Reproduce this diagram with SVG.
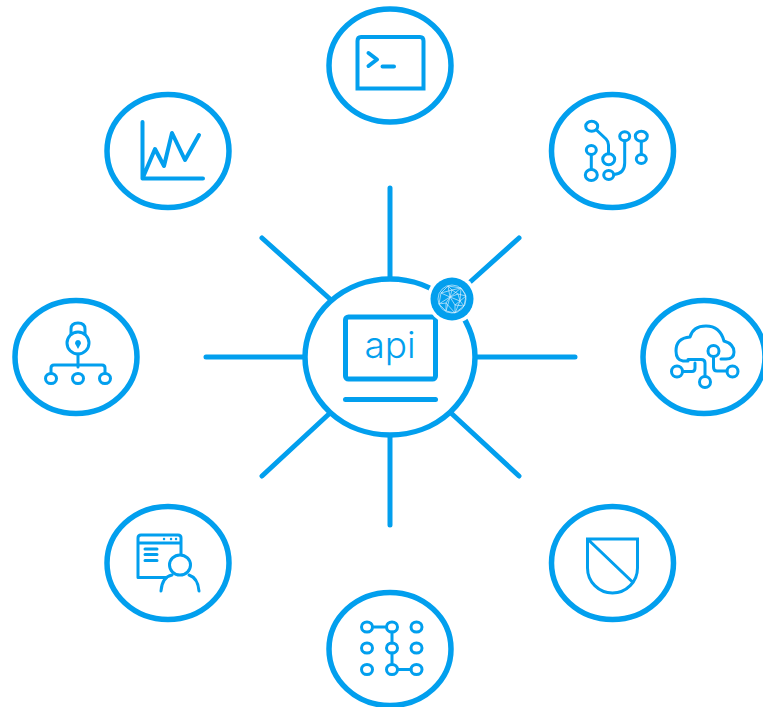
<svg xmlns="http://www.w3.org/2000/svg" width="763" height="707" viewBox="0 0 763 707">
<style>
.ring{fill:#fff;stroke:#029fee;stroke-width:5.500}
.sp{fill:none;stroke:#029fee;stroke-width:5;stroke-linecap:round}
.ic{fill:none;stroke:#029fee;stroke-width:3;stroke-linecap:round;stroke-linejoin:round}
.net{fill:none;stroke:#d5eefc;stroke-width:.7}
</style>
<rect width="763" height="707" fill="#fff"/>
<g id="connectors" class="sp">
<path d="M390 188V277M390 437V525M206 357H303M477 357H575M262 238L330 299M519 238L469 283M262 476L330 413M519 476L451 413"/>
</g>
<g id="node-api">
<ellipse class="ring" cx="390" cy="357" rx="85" ry="78"/>
<rect x="345.500" y="317" width="90" height="62" rx="3" fill="none" stroke="#029fee" stroke-width="5"/>
<path d="M345.500 399.500H435.500" class="sp"/>
<text x="390" y="358" font-family="Inter, 'Noto Sans', sans-serif" font-size="37" font-weight="300" fill="#029fee" text-anchor="middle">api</text>
</g>
<g id="node-globe">
<circle cx="452" cy="299" r="25" fill="#fff"/>
<circle cx="452" cy="299" r="21.500" fill="#029fee"/>
<g class="net">
<circle cx="452" cy="299" r="14"/>
<path d="M448 286L441 293L439 304L446 311L455 313L464 306L466 296L461 288L448 286M448 286L450 297L441 293M450 297L446 311M450 297L460 301L455 313M460 301L466 296M450 297L461 288M460 301L461 288M439 304L450 297M460 301L464 306M441 293L452 290L461 288M452 290L450 297M452 290L448 286M439 304L446 303L450 297M446 303L446 311M446 303L455 313M455 305L460 301M455 305L450 297M455 305L464 306M455 305L455 313M458 294L452 290M458 294L466 296M458 294L460 301M458 294L450 297"/>
</g>
</g>
<g id="node-terminal">
<ellipse class="ring" cx="390" cy="65.500" rx="61" ry="56.500"/>
<path d="M357.500 88.500V41Q357.500 37 361 37H420Q423.500 37 423.500 41V88.500Z" fill="none" stroke="#029fee" stroke-width="4"/>
<path d="M368.500 53L377 59.500L368.500 66M382.500 66.500H394" fill="none" stroke="#029fee" stroke-width="4" stroke-linecap="round" stroke-linejoin="round"/>
</g>
<g id="node-circuit">
<ellipse class="ring" cx="612.500" cy="151" rx="61" ry="56.500"/>
<g class="ic">
<ellipse cx="591.700" cy="126.300" rx="6" ry="5"/>
<ellipse cx="624.700" cy="136.300" rx="5" ry="4.500"/>
<ellipse cx="641.300" cy="136.300" rx="6" ry="5"/>
<ellipse cx="591.300" cy="150" rx="5" ry="4.500"/>
<ellipse cx="641.300" cy="159" rx="5" ry="4.500"/>
<ellipse cx="608.700" cy="159.300" rx="6" ry="5.500"/>
<ellipse cx="591.300" cy="175" rx="6" ry="5.500"/>
<ellipse cx="608.700" cy="175" rx="5" ry="4.500"/>
<path d="M597 130.500L606 139Q608.500 141.500 608.500 145V153.800M591.300 154.500V169.500M641.300 141.300V154.500M624.700 140.800V163Q624.700 173.500 614 174.500"/>
</g>
</g>
<g id="node-cloud">
<ellipse class="ring" cx="704" cy="357" rx="61" ry="56.500"/>
<g class="ic">
<path d="M688 361H683Q676 360 676 351Q676 338 690 337Q693 326 706 326Q720 326 724 341Q734 344 734 352Q734 359 726 359H721"/>
<circle cx="713.500" cy="351" r="5.500"/>
<path d="M713.500 356.500V367Q713.500 371 717 371H727"/>
<circle cx="732.500" cy="371.500" r="5.500"/>
<circle cx="677" cy="371.500" r="5.500"/>
<path d="M682.500 371.500H692Q695 371.500 695 368V363"/>
<circle cx="705" cy="382" r="5.500"/>
<path d="M688 359.500H701Q705 359.500 705 363V376.500"/>
</g>
</g>
<g id="node-shield">
<ellipse class="ring" cx="612.500" cy="563" rx="61" ry="56.500"/>
<path d="M587.500 539H637.500V568A25 25 0 0 1 587.500 568ZM587.500 539L632.500 582" fill="none" stroke="#029fee" stroke-width="3" stroke-linejoin="miter"/>
</g>
<g id="node-grid">
<ellipse class="ring" cx="390" cy="649" rx="61" ry="56.500"/>
<g class="ic">
<ellipse cx="367" cy="627" rx="5.500" ry="5"/>
<ellipse cx="392" cy="627" rx="5.500" ry="5"/>
<ellipse cx="416.500" cy="627" rx="5.500" ry="5"/>
<ellipse cx="367" cy="648" rx="5.500" ry="5"/>
<ellipse cx="392" cy="648" rx="5.500" ry="5"/>
<ellipse cx="416.500" cy="648" rx="5.500" ry="5"/>
<ellipse cx="367" cy="669.500" rx="5.500" ry="5"/>
<ellipse cx="392" cy="669.500" rx="5.500" ry="5"/>
<ellipse cx="416.500" cy="669.500" rx="5.500" ry="5"/>
<path d="M372.500 627H386.500M392 632V643M392 653V664.500M397.500 669.500H411"/>
</g>
</g>
<g id="node-user">
<ellipse class="ring" cx="168" cy="563" rx="61" ry="56.500"/>
<g class="ic">
<path d="M166 577.500H138V538Q138 535 141 535H178Q181 535 181 538V554M138 543H181"/>
<path d="M145 549H157M145 554.500H157M145 560.500H157"/>
<path d="M164 539H164.100M171 539H171.100M176 539H176.100" stroke-width="2.400"/>
<ellipse cx="180" cy="565" rx="10.500" ry="10"/>
<path d="M161 591Q162 577 172 575M189 575Q198 578 199 591"/>
</g>
</g>
<g id="node-lock">
<ellipse class="ring" cx="76" cy="357" rx="61" ry="56.500"/>
<g class="ic">
<circle cx="78" cy="343" r="11"/>
<path d="M71 334V329Q71 323 78 323Q85 323 85 329V334"/>
<path d="M78 354V367M51 373V368Q51 365 54 365H102Q105 365 105 368V373"/>
<ellipse cx="51" cy="378.500" rx="5.500" ry="5"/>
<ellipse cx="78" cy="378.500" rx="5.500" ry="5"/>
<ellipse cx="105" cy="378.500" rx="5.500" ry="5"/>
</g>
<path d="M78 340a3 3 0 0 1 2 5.200L78 349L76 345.200a3 3 0 0 1 2-5.200Z" fill="#029fee"/>
</g>
<g id="node-chart">
<ellipse class="ring" cx="168" cy="151" rx="61" ry="56.500"/>
<path d="M142.500 122V178.500H203M142.500 178.500L155 149L164 166L172 133L185 160L199 135" fill="none" stroke="#029fee" stroke-width="4" stroke-linecap="round" stroke-linejoin="round"/>
</g>
</svg>
